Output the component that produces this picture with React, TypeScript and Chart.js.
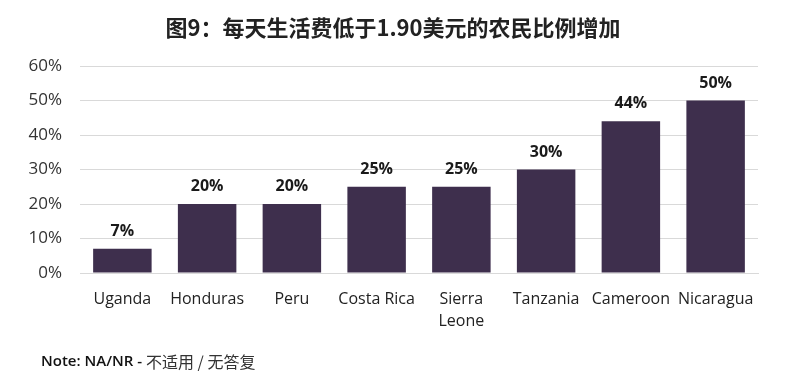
import React, { useEffect, useRef } from "react";
import { Chart, registerables } from "chart.js";

Chart.register(...registerables);

const categories: (string | string[])[] = ["Uganda", "Honduras", "Peru", "Costa Rica", ["Sierra", "Leone"], "Tanzania", "Cameroon", "Nicaragua"];
const values: number[] = [7, 20, 20, 25, 25, 30, 44, 50];
const yTicks: number[] = [0, 10, 20, 30, 40, 50, 60];
const titleText = "图9：每天生活费低于1.90美元的农民比例增加";
const noteBold = "Note: NA/NR - ";
const noteRest = "不适用 / 无答复";

const FONT = "'Open Sans', 'Noto Sans CJK SC', sans-serif";

const overlayPlugin = {
  id: "overlay",
  afterDatasetsDraw(chart: any) {
    const ctx = chart.ctx;
    const meta = chart.getDatasetMeta(0);
    ctx.save();
    ctx.fillStyle = "#1a1a1a";
    ctx.font = `bold 16px ${FONT}`;
    ctx.textAlign = "center";
    ctx.textBaseline = "alphabetic";
    meta.data.forEach((bar: any, i: number) => {
      ctx.fillText(values[i] + "%", bar.x, bar.y - 13);
    });
    // title
    ctx.font = `bold 22px 'Noto Sans CJK SC', sans-serif`;
    ctx.fillStyle = "#222";
    ctx.textBaseline = "middle";
    ctx.fillText(titleText, 393, 28);
    // note
    ctx.textAlign = "left";
    ctx.font = `600 15px ${FONT}`;
    ctx.fillStyle = "#111";
    ctx.fillText(noteBold, 41, 362);
    const w = ctx.measureText(noteBold).width;
    ctx.font = `16px 'Noto Sans CJK SC', sans-serif`;
    ctx.fillStyle = "#333";
    ctx.fillText(noteRest, 41 + w, 362);
    ctx.restore();
  },
};

export default function App() {
  const ref = useRef<HTMLCanvasElement | null>(null);
  useEffect(() => {
    if (!ref.current) return;
    const chart = new Chart(ref.current, {
      type: "bar",
      data: {
        labels: categories,
        datasets: [
          {
            data: values,
            backgroundColor: "#3e2f4d",
            categoryPercentage: 1,
            barPercentage: 0.69,
          },
        ],
      },
      options: {
        animation: false,
        responsive: false,
        layout: { padding: { left: 0, right: 30, top: 66, bottom: 0 } },
        plugins: { legend: { display: false }, tooltip: { enabled: false }, title: { display: false } },
        scales: {
          x: {
            grid: { display: false, drawTicks: false },
            border: { display: true, color: "#d9d9d9", width: 1 },
            ticks: {
              color: "#222",
              font: { family: FONT, size: 16, lineHeight: 1.4 },
              padding: 15,
              maxRotation: 0,
              autoSkip: false,
            },
            afterFit(scale: any) {
              scale.height = 108;
            },
          },
          y: {
            min: 0,
            max: 60,
            afterBuildTicks(scale: any) {
              scale.ticks = yTicks.map((v) => ({ value: v }));
            },
            grid: { color: "#d9d9d9", drawTicks: false },
            border: { display: false },
            ticks: {
              color: "#333",
              font: { family: FONT, size: 17 },
              padding: 18,
              callback: (v: any) => v + "%",
            },
            afterFit(scale: any) {
              scale.width = 80;
            },
          },
        },
      },
      plugins: [overlayPlugin],
    });
    return () => chart.destroy();
  }, []);
  return (
    <div style={{ position: "fixed", left: 0, top: 0, width: 788, height: 381, background: "#fff" }}>
      <canvas ref={ref} width={788} height={381} />
    </div>
  );
}
